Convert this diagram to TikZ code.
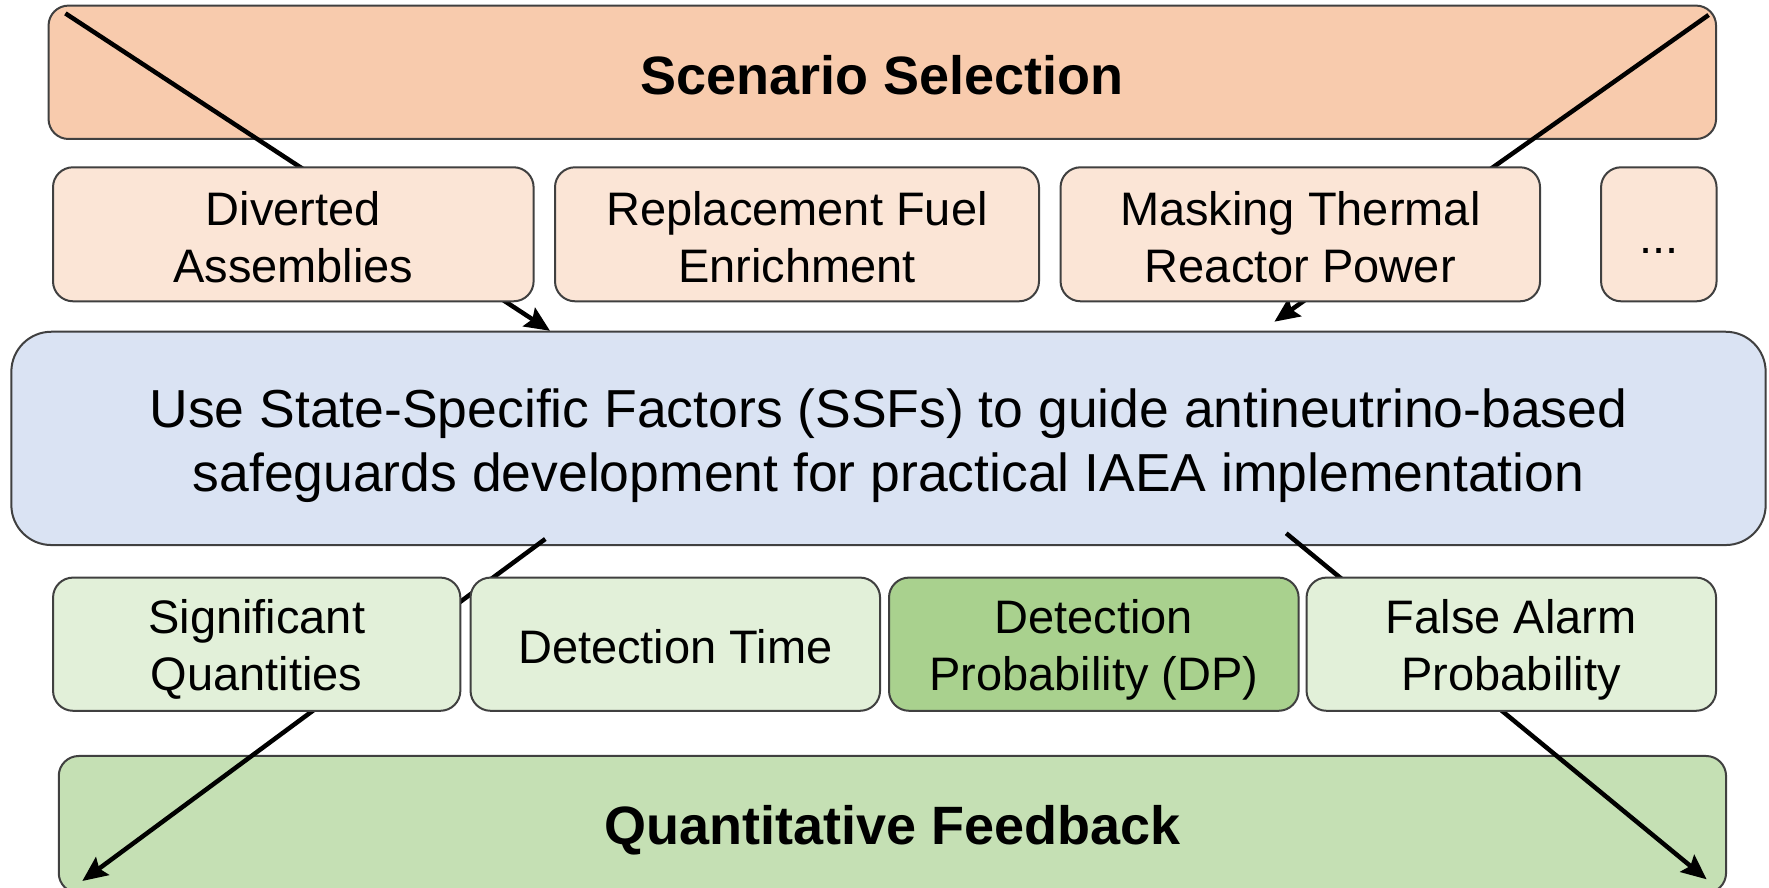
\documentclass[tikz,border=0pt]{standalone}
\usepackage{fontspec}
\setmainfont{Liberation Sans}
\usetikzlibrary{arrows.meta}
\definecolor{scenfill}{HTML}{F8CBAD}
\definecolor{rowtwofill}{HTML}{FBE5D6}
\definecolor{bluefill}{HTML}{DAE3F3}
\definecolor{rowfourfill}{HTML}{E2F0D9}
\definecolor{dpfill}{HTML}{A9D18E}
\definecolor{quantfill}{HTML}{C5E0B4}
\definecolor{bordc}{HTML}{404040}
\begin{document}
\begin{tikzpicture}[x=1pt,y=1pt,
  box/.style={draw=bordc, line width=2pt, rounded corners=20pt, inner sep=0pt},
  smallbox/.style={box, minimum height=134pt},
  bigtxt/.style={inner sep=0pt, align=center, font=\fontsize{54}{64}\selectfont\bfseries},
  txt/.style={inner sep=0pt, align=center, font=\fontsize{47}{57}\selectfont},
  conn/.style={line width=4.5pt, draw=black, -{Stealth[length=25pt,width=22pt,inset=4pt]}}]
\clip (0,0) rectangle (1769,888);
\fill[white] (0,0) rectangle (1769,888);
% large boxes
\node[box, fill=scenfill, minimum width=1667.5pt, minimum height=133.4pt] (scen) at (882.3,815.7) {};
\node[bigtxt] (scent) at ([yshift=-2.5pt]scen.center) {Scenario Selection};
\node[box, fill=bluefill, rounded corners=40pt, minimum width=1754.3pt, minimum height=213.3pt] (ssf) at (888.5,449.6) {};
\node[inner sep=0pt, align=center, font=\fontsize{53.5}{63.6}\selectfont] (ssft) at ([yshift=-7pt]ssf.center)
  {Use State-Specific Factors (SSFs) to guide antineutrino-based\\safeguards development for practical IAEA implementation};
\node[box, fill=quantfill, minimum width=1667.3pt, minimum height=137pt] (quant) at (892.4,63.5) {};
\node[bigtxt] (quantt) at ([yshift=-5.5pt]quant.center) {Quantitative Feedback};
% connector end points
\coordinate (a1s) at (65.4,874.6);
\coordinate (a1e) at (550,557.2);
\coordinate (a2s) at (1708.6,873);
\coordinate (a2e) at (1274.4,566.3);
\coordinate (a3s) at (545.3,349);
\coordinate (a3e) at (82.3,7);
\coordinate (a4s) at (1286.2,354.7);
\coordinate (a4e) at (1706.6,8.7);
\draw[conn] (a1s) -- (a1e);
\draw[conn] (a2s) -- (a2e);
\draw[conn] (a3s) -- (a3e);
\draw[conn] (a4s) -- (a4e);
% row two
\node[smallbox, fill=rowtwofill, minimum width=480.6pt] (div) at (293.3,653.7) {};
\node[txt] (divt) at ([yshift=-2.5pt]div.center) {Diverted\\Assemblies};
\node[smallbox, fill=rowtwofill, minimum width=484pt] (rep) at (797,653.7) {};
\node[txt] (rept) at ([yshift=-2.5pt]rep.center) {Replacement Fuel\\Enrichment};
\node[smallbox, fill=rowtwofill, minimum width=479.5pt] (mask) at (1300.3,653.7) {};
\node[txt] (maskt) at ([yshift=-2.5pt]mask.center) {Masking Thermal\\Reactor Power};
\node[smallbox, fill=rowtwofill, minimum width=115.5pt] (dots) at (1658.8,653.7) {};
\node[txt] (dotst) at ([yshift=-17pt]dots.center) {...};
% row four
\node[smallbox, fill=rowfourfill, minimum height=133.2pt, minimum width=407.3pt] (sq) at (256.7,243.8) {};
\node[txt] (sqt) at ([yshift=-5pt]sq.center) {Significant\\Quantities};
\node[smallbox, fill=rowfourfill, minimum height=133.2pt, minimum width=409.5pt] (dt) at (675.3,243.8) {};
\node[txt] (dtt) at ([yshift=-2.5pt]dt.center) {Detection Time};
\node[smallbox, fill=dpfill, minimum height=133.2pt, minimum width=409.6pt] (dp) at (1093.8,243.8) {};
\node[txt] (dpt) at ([yshift=-6pt]dp.center) {Detection\\Probability (DP)};
\node[smallbox, fill=rowfourfill, minimum height=133.2pt, minimum width=409.5pt] (fap) at (1511.3,243.8) {};
\node[txt] (fapt) at ([yshift=-6pt]fap.center) {False Alarm\\Probability};
\end{tikzpicture}
\end{document}
